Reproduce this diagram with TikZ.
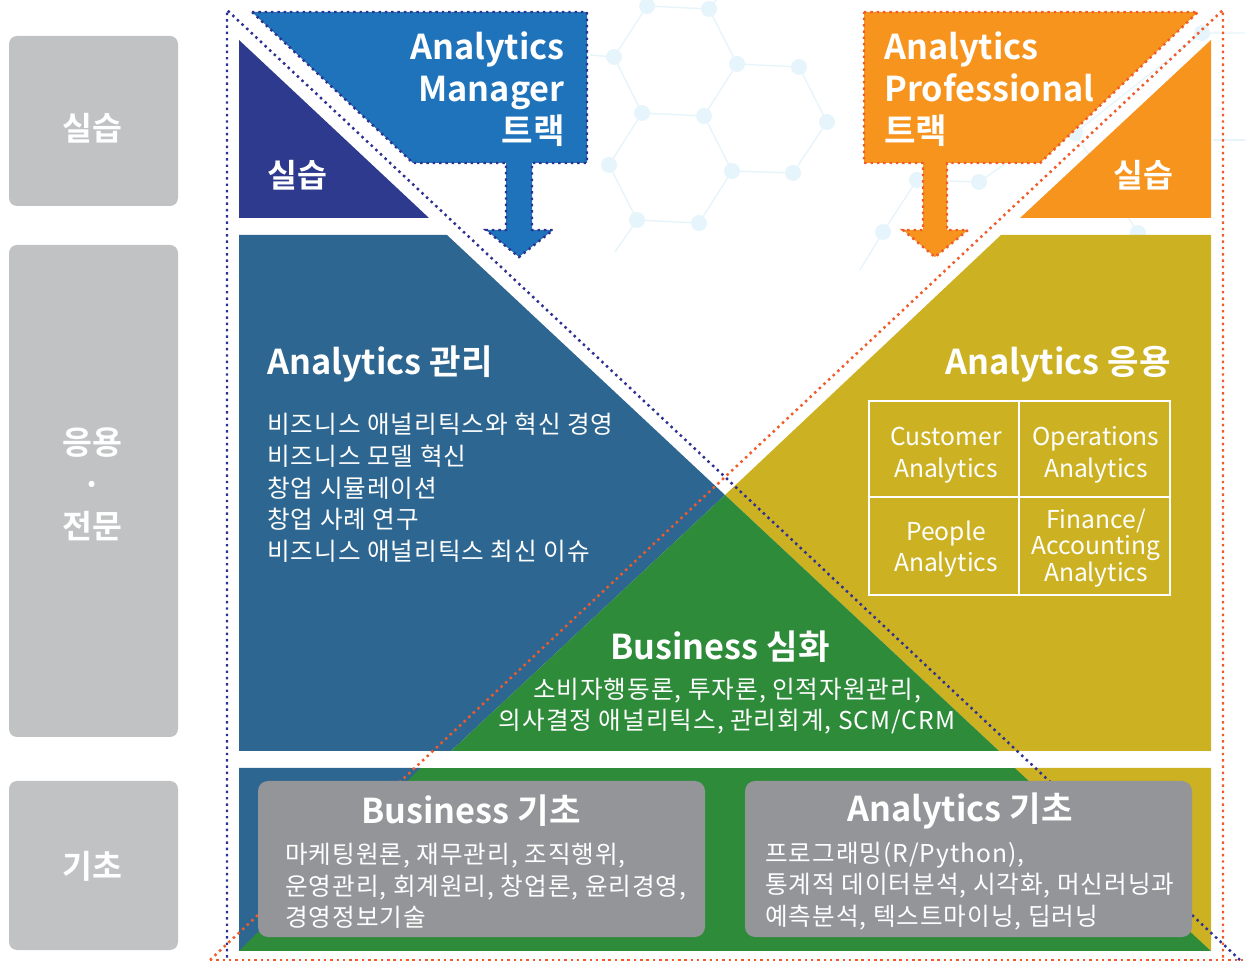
\documentclass[tikz,border=0pt]{standalone}
\usepackage{fontspec}
\setmainfont{Noto Sans CJK KR}[BoldFont={Noto Sans CJK KR Bold}]
\usetikzlibrary{positioning}
\definecolor{sidegray}{RGB}{193,194,196}
\definecolor{boxgray}{RGB}{147,149,152}
\definecolor{mpurple}{RGB}{46,58,141}
\definecolor{mblue}{RGB}{30,115,186}
\definecolor{mnavy}{RGB}{46,49,146}
\definecolor{morange}{RGB}{247,148,29}
\definecolor{mred}{RGB}{241,90,41}
\definecolor{msteel}{RGB}{45,102,144}
\definecolor{myellow}{RGB}{204,178,34}
\definecolor{mgreen}{RGB}{46,139,58}
\definecolor{hexline}{RGB}{230,244,251}
\tikzset{dots/.style = {line width=1.4pt, dash pattern=on 1.4pt off 2.2pt},
         sidebox/.style = {fill=sidegray, rounded corners=0.16cm},
         basebox/.style = {fill=boxgray, rounded corners=0.2cm},
         head/.style = {text=white, font=\bfseries\fontsize{19.5}{24}\selectfont, inner sep=0},
         sidehead/.style = {head, font=\bfseries\fontsize{18.5}{24}\selectfont},
         body/.style = {text=white, font=\fontsize{14}{18}\selectfont\addfontfeature{LetterSpace=4}, inner sep=0},
         cell/.style = {text=white, font=\fontsize{14}{18}\selectfont, align=center, inner sep=0},
         hexdot/.style = {fill=hexline, circle, inner sep=0, minimum size=0.32cm}}
\begin{document}
\begin{tikzpicture}[x=0.02cm, y=-0.02cm]
  \useasboundingbox (0,0) rectangle (1245,962);

  % background network
  \begin{scope}[hexline, line width=0.8pt]
    \draw (647,6) -- (709,9) -- (737,64) -- (799,67) -- (827,122) -- (793,173) -- (732,171) -- (704,116) -- (737,64);
    \draw (709,9) -- (720,-5);
    \draw (590,55) -- (614,57) -- (647,6);
    \draw (614,57) -- (642,113) -- (704,116);
    \draw (642,113) -- (609,165) -- (637,220) -- (699,223) -- (732,171);
    \draw (637,220) -- (615,252);
    \draw (917,180) -- (979,182) -- (1040,140) -- (1075,133) -- (1138,233);
    \draw (917,180) -- (883,232) -- (860,270);
    \draw (1075,133) -- (1202,33) -- (1245,33);
    \draw (1213,140) -- (1245,140);
    \foreach \p in {(647,6),(709,9),(614,57),(737,64),(799,67),(642,113),(704,116),(827,122),
                    (609,165),(732,171),(793,173),(637,220),(699,223),
                    (1202,33),(1075,133),(979,182),(917,180),(883,232),(1138,233)}
      \node [hexdot] at \p {};
  \end{scope}

  % side labels
  \fill [sidebox] (9,36) rectangle (178,206);
  \fill [sidebox] (9,245) rectangle (178,737);
  \fill [sidebox] (9,781) rectangle (178,950);
  \node [sidehead] (side1) at (92,128) {실습};
  \node [sidehead, align=center] (side2) at (92,484) {응용\\·\\전문};
  \node [sidehead] (side3) at (92,866) {기초};

  % practice corners
  \fill [mpurple] (239,40) -- (239,218) -- (429,218) -- cycle;
  \fill [morange] (1211,40) -- (1211,218) -- (1020,218) -- cycle;
  \node [head, font=\bfseries\fontsize{18.5}{24}\selectfont] (prac1) at (297,175) {실습};
  \node [head, font=\bfseries\fontsize{18.5}{24}\selectfont] (prac2) at (1143,175) {실습};

  % middle band
  \fill [msteel] (239,235) -- (447,235) -- (725,495) -- (451,751) -- (239,751) -- cycle;
  \fill [myellow] (1001,235) -- (1211,235) -- (1211,751) -- (999,751) -- (725,495) -- cycle;
  \fill [mgreen] (725,495) -- (999,751) -- (451,751) -- cycle;

  % bottom band
  \fill [mgreen] (239,768) rectangle (1211,951);
  \fill [msteel] (239,768) -- (420,768) -- (239,951) -- cycle;
  \fill [myellow] (1015,768) -- (1211,768) -- (1211,951) -- cycle;

  % dotted frames
  \draw [mnavy, dots] (1240,960) -- (227,10) -- (227,958);
  \draw [mred, dots] (210,960) -- (1223,10) -- (1223,960);
  \draw [mred, dots] (210,960) -- (1245,960);

  \fill [basebox] (258,781) rectangle (705,937);
  \fill [basebox] (745,781) rectangle (1192,937);

  % track arrows
  \filldraw [fill=mblue, draw=mnavy, dots]
    (252,12) -- (587,12) -- (587,163) -- (532,163) -- (532,230) -- (553,230)
    -- (519,257) -- (486,230) -- (506,230) -- (506,163) -- (413,163) -- cycle;
  \filldraw [fill=morange, draw=mred, dots]
    (864,12) -- (1198,12) -- (1040,163) -- (947,163) -- (947,230) -- (968,230)
    -- (935,257) -- (903,230) -- (923,230) -- (923,163) -- (864,163) -- cycle;

  % texts
  \node [head, align=right, anchor=east] (mgr) at (565,89) {Analytics\\Manager\\트랙};
  \node [head, align=left, anchor=west] (pro) at (884,89) {Analytics\\Professional\\트랙};

  \node [head, anchor=west] (mng) at (267,364) {Analytics 관리};
  \node [body, align=left, anchor=west] (mnglist) at (267,488)
    {비즈니스 애널리틱스와 혁신 경영\\비즈니스 모델 혁신\\창업 시뮬레이션\\창업 사례 연구\\비즈니스 애널리틱스 최신 이슈};

  \node [head, anchor=east] (app) at (1171,364) {Analytics 응용};
  \draw [white, line width=1.4pt] (869,401) rectangle (1170,595)
    (1019,401) -- (1019,595) (869,497) -- (1170,497);
  \node [cell] (cust) at (946,455) {Customer\\Analytics};
  \node [cell] (oper) at (1096,455) {Operations\\Analytics};
  \node [cell] (peop) at (946,549) {People\\Analytics};
  \node [cell, font=\fontsize{14}{15.3}\selectfont] (fin) at (1096,548) {Finance/\\Accounting\\Analytics};

  \node [head] (adv) at (720,647) {Business 심화};
  \node [body, align=center] (advlist) at (727,706)
    {소비자행동론, 투자론, 인적자원관리,\\의사결정 애널리틱스, 관리회계, SCM/CRM};

  \node [head] (bbase) at (471,811) {Business 기초};
  \node [body, align=left, anchor=west] (bbaselist) at (285,886)
    {마케팅원론, 재무관리, 조직행위,\\운영관리, 회계원리, 창업론, 윤리경영,\\경영정보기술};
  \node [head] (abase) at (960,811) {Analytics 기초};
  \node [body, align=left, anchor=west] (abaselist) at (765,886)
    {프로그래밍(R/Python),\\통계적 데이터분석, 시각화, 머신러닝과\\예측분석, 텍스트마이닝, 딥러닝};
\end{tikzpicture}
\end{document}
